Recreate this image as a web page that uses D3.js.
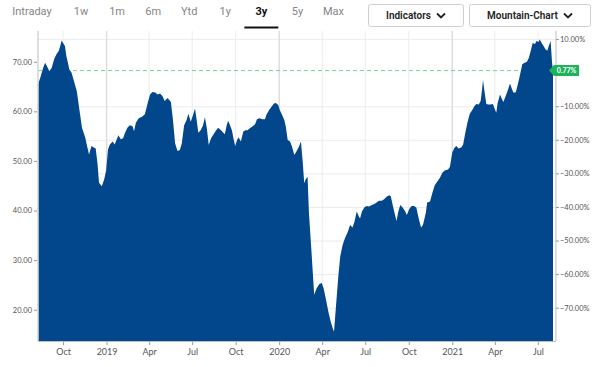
<!DOCTYPE html>
<html>
<head>
<meta charset="utf-8">
<script src="https://cdn.jsdelivr.net/npm/d3@7"></script>
<style>
  body { margin: 0; background: #fff; }
  svg { display: block; }
</style>
</head>
<body>
<div id="chart"></div>
<script>
// データ ------------------------------------------------------------------------------------
const dates = [
  '2018-08-09', '2018-08-14', '2018-08-20', '2018-08-24', '2018-08-28', '2018-09-02', '2018-09-07', '2018-09-12',
  '2018-09-17', '2018-09-22', '2018-09-25', '2018-09-28', '2018-10-01', '2018-10-05', '2018-10-08', '2018-10-12',
  '2018-10-14', '2018-10-19', '2018-10-24', '2018-10-30', '2018-11-04', '2018-11-10', '2018-11-17', '2018-11-20',
  '2018-11-25', '2018-11-30', '2018-12-05', '2018-12-09', '2018-12-13', '2018-12-16', '2018-12-22', '2018-12-27',
  '2018-12-31', '2019-01-04', '2019-01-08', '2019-01-14', '2019-01-18', '2019-01-22', '2019-01-26', '2019-01-31',
  '2019-02-05', '2019-02-09', '2019-02-14', '2019-02-19', '2019-02-25', '2019-02-28', '2019-03-04', '2019-03-10',
  '2019-03-17', '2019-03-23', '2019-03-29', '2019-04-03', '2019-04-08', '2019-04-14', '2019-04-19', '2019-04-24',
  '2019-04-29', '2019-05-04', '2019-05-10', '2019-05-17', '2019-05-21', '2019-05-26', '2019-05-31', '2019-06-05',
  '2019-06-09', '2019-06-14', '2019-06-19', '2019-06-23', '2019-06-28', '2019-07-03', '2019-07-07', '2019-07-10',
  '2019-07-14', '2019-07-19', '2019-07-24', '2019-07-28', '2019-08-01', '2019-08-05', '2019-08-10', '2019-08-14',
  '2019-08-20', '2019-08-25', '2019-08-31', '2019-09-05', '2019-09-08', '2019-09-12', '2019-09-15', '2019-09-19',
  '2019-09-23', '2019-09-27', '2019-09-30', '2019-10-04', '2019-10-07', '2019-10-12', '2019-10-17', '2019-10-21',
  '2019-10-26', '2019-10-31', '2019-11-06', '2019-11-11', '2019-11-15', '2019-11-20', '2019-11-27', '2019-12-02',
  '2019-12-05', '2019-12-11', '2019-12-17', '2019-12-21', '2019-12-25', '2019-12-30', '2020-01-02', '2020-01-07',
  '2020-01-12', '2020-01-15', '2020-01-19', '2020-01-24', '2020-01-28', '2020-02-02', '2020-02-07', '2020-02-12',
  '2020-02-16', '2020-02-20', '2020-02-23', '2020-02-26', '2020-03-01', '2020-03-04', '2020-03-10', '2020-03-15',
  '2020-03-20', '2020-03-26', '2020-03-31', '2020-04-04', '2020-04-09', '2020-04-14', '2020-04-19', '2020-04-24',
  '2020-04-26', '2020-04-30', '2020-05-05', '2020-05-09', '2020-05-14', '2020-05-19', '2020-05-25', '2020-05-30',
  '2020-06-04', '2020-06-08', '2020-06-13', '2020-06-17', '2020-06-20', '2020-06-24', '2020-06-29', '2020-07-04',
  '2020-07-09', '2020-07-15', '2020-07-20', '2020-07-25', '2020-07-30', '2020-08-05', '2020-08-10', '2020-08-15',
  '2020-08-21', '2020-08-24', '2020-08-28', '2020-09-02', '2020-09-05', '2020-09-09', '2020-09-13', '2020-09-18',
  '2020-09-23', '2020-09-27', '2020-10-02', '2020-10-07', '2020-10-12', '2020-10-17', '2020-10-22', '2020-10-27',
  '2020-10-31', '2020-11-06', '2020-11-09', '2020-11-15', '2020-11-20', '2020-11-25', '2020-11-30', '2020-12-06',
  '2020-12-11', '2020-12-16', '2020-12-23', '2020-12-27', '2021-01-01', '2021-01-06', '2021-01-10', '2021-01-14',
  '2021-01-20', '2021-01-24', '2021-01-28', '2021-02-02', '2021-02-07', '2021-02-12', '2021-02-17', '2021-02-21',
  '2021-02-26', '2021-03-02', '2021-03-05', '2021-03-07', '2021-03-10', '2021-03-14', '2021-03-18', '2021-03-23',
  '2021-03-28', '2021-03-31', '2021-04-04', '2021-04-07', '2021-04-12', '2021-04-15', '2021-04-19', '2021-04-24',
  '2021-04-29', '2021-05-03', '2021-05-06', '2021-05-10', '2021-05-15', '2021-05-18', '2021-05-23', '2021-05-29',
  '2021-06-03', '2021-06-08', '2021-06-12', '2021-06-16', '2021-06-20', '2021-06-25', '2021-06-28', '2021-07-02',
  '2021-07-05', '2021-07-09', '2021-07-14', '2021-07-17', '2021-07-21', '2021-07-24', '2021-07-28', '2021-07-31',
  '2021-08-02'
];
const prices = [
  65.4, 66.8, 68.8, 69.8, 69.1, 68.1, 68.8, 70.5,
  71.5, 72.2, 73.2, 74.3, 73.8, 73.2, 71.1, 69.5,
  68.5, 67.8, 66.1, 64.1, 60.7, 56.7, 54.7, 53.3,
  51.3, 53.0, 52.7, 52.5, 49.3, 45.6, 44.9, 46.3,
  48.0, 52.3, 53.3, 53.9, 53.3, 54.2, 55.2, 54.4,
  54.6, 55.7, 56.7, 57.2, 57.0, 56.0, 57.7, 58.6,
  58.9, 59.4, 61.7, 63.4, 63.9, 63.8, 63.4, 63.6,
  63.1, 62.1, 62.7, 61.9, 58.6, 53.5, 52.0, 52.2,
  53.5, 57.2, 58.2, 59.5, 57.9, 59.3, 60.6, 58.6,
  55.7, 56.2, 57.2, 58.8, 56.6, 53.2, 54.6, 55.2,
  56.1, 56.7, 56.2, 55.7, 55.4, 57.2, 58.1, 57.2,
  56.2, 54.2, 53.0, 54.2, 54.8, 53.9, 55.9, 56.2,
  56.2, 56.6, 57.0, 57.4, 58.4, 58.6, 58.4, 58.4,
  59.3, 60.3, 61.1, 61.6, 61.7, 61.3, 60.3, 59.3,
  58.2, 56.9, 54.2, 53.9, 52.9, 51.2, 52.0, 52.9,
  53.9, 49.5, 45.5, 46.3, 46.8, 39.4, 30.7, 23.0,
  24.3, 25.2, 25.4, 24.3, 22.0, 19.6, 17.6, 16.0,
  15.6, 20.6, 26.7, 30.7, 33.0, 34.4, 35.7, 37.1,
  36.6, 37.7, 39.8, 38.9, 38.4, 39.8, 40.6, 40.9,
  40.8, 41.1, 41.3, 41.6, 42.0, 42.0, 42.3, 42.8,
  43.1, 42.9, 41.1, 39.1, 37.9, 39.8, 41.1, 40.6,
  39.9, 39.1, 40.3, 40.9, 40.9, 40.6, 38.4, 36.6,
  37.1, 39.5, 41.6, 41.8, 43.6, 45.1, 45.8, 46.6,
  47.6, 48.1, 48.3, 48.8, 51.7, 52.7, 53.0, 52.5,
  52.7, 53.3, 55.4, 57.7, 59.5, 60.2, 61.1, 61.5,
  61.4, 62.1, 64.4, 66.3, 64.1, 61.5, 61.4, 61.4,
  61.5, 60.7, 59.7, 61.7, 63.4, 62.7, 61.9, 63.1,
  64.4, 65.6, 64.8, 63.8, 63.8, 64.8, 66.8, 69.5,
  69.8, 70.0, 70.8, 72.2, 73.8, 73.6, 74.2, 74.0,
  74.5, 73.8, 73.0, 72.5, 72.2, 73.2, 74.2, 69.8,
  68.22
];
const baseClose = 67.7;          // 3年前の基準値 (0%)
const priceTicks = [20, 30, 40, 50, 60, 70];
const pctTicks = [10, -10, -20, -30, -40, -50, -60, -70];
const xTickDates = ['2018-10-01', '2019-01-01', '2019-04-01', '2019-07-01', '2019-10-01', '2020-01-01',
  '2020-04-01', '2020-07-01', '2020-10-01', '2021-01-01', '2021-04-01', '2021-07-01'];
const xTickLabels = ['Oct', '2019', 'Apr', 'Jul', 'Oct', '2020', 'Apr', 'Jul', 'Oct', '2021', 'Apr', 'Jul'];
const tabs = ['Intraday', '1w', '1m', '6m', 'Ytd', '1y', '3y', '5y', 'Max'];
const activeTab = '3y';
const buttons = ['Indicators', 'Mountain-Chart'];

// SVG領域 -----------------------------------------------------------------------------------
const width = 600;
const height = 367;
const plot = { left: 38, right: 553, top: 31, bottom: 341 };
const axisFont = 'Lato, "Open Sans", sans-serif';

const svg = d3.select('#chart').append('svg')
  .attr('width', width)
  .attr('height', height);

const data = dates.map((d, i) => ({ date: new Date(d), value: prices[i] }));

// スケール ------------------------------------------------------------------------------------
const xScale = d3.scaleUtc()
  .domain([data[0].date, data[data.length - 1].date])
  .range([plot.left, plot.right]);
const yScale = d3.scaleLinear()
  .domain([13.7, 76.2])
  .range([plot.bottom, plot.top]);
const pctY = p => yScale(baseClose * (1 + p / 100));

// グリッド ------------------------------------------------------------------------------------
svg.append('g')
  .selectAll('line')
  .data(pctTicks)
  .join('line')
  .attr('x1', plot.left)
  .attr('x2', plot.right + 3)
  .attr('y1', d => pctY(d))
  .attr('y2', d => pctY(d))
  .attr('stroke', '#ececec')
  .attr('stroke-width', 1);

svg.append('g')
  .selectAll('line')
  .data(xTickDates)
  .join('line')
  .attr('x1', d => xScale(new Date(d)))
  .attr('x2', d => xScale(new Date(d)))
  .attr('y1', plot.top)
  .attr('y2', plot.bottom)
  .attr('stroke', (d, i) => /^\d/.test(xTickLabels[i]) ? '#dedede' : '#ececec')
  .attr('stroke-width', (d, i) => /^\d/.test(xTickLabels[i]) ? 1.5 : 1);

// 基準線 (点線) -------------------------------------------------------------------------------
const lastValue = prices[prices.length - 1];
const lastPct = (lastValue / baseClose - 1) * 100;
svg.append('line')
  .attr('x1', plot.left)
  .attr('x2', plot.right)
  .attr('y1', yScale(lastValue))
  .attr('y2', yScale(lastValue))
  .attr('stroke', '#74d39c')
  .attr('stroke-width', 1)
  .attr('stroke-dasharray', '4,3');

// エリア ---------------------------------------------------------------------------------------
const area = d3.area()
  .x(d => xScale(d.date))
  .y0(plot.bottom)
  .y1(d => yScale(d.value));
svg.append('path')
  .datum(data)
  .attr('d', area)
  .attr('fill', '#02478b');

// 左軸 -----------------------------------------------------------------------------------------
svg.append('line')
  .attr('x1', plot.left)
  .attr('x2', plot.left)
  .attr('y1', plot.top)
  .attr('y2', plot.bottom)
  .attr('stroke', '#d6d6d6')
  .attr('stroke-width', 1.6);

const leftAxis = svg.append('g')
  .attr('transform', 'translate(' + (plot.left - 1) + ',0)')
  .call(d3.axisLeft(yScale).tickValues(priceTicks).tickFormat(d3.format('.2f')).tickSize(3).tickPadding(2));
leftAxis.select('.domain').remove();
leftAxis.selectAll('line').attr('stroke', '#999');
leftAxis.selectAll('text')
  .attr('fill', '#555')
  .attr('font-family', axisFont)
  .attr('font-size', '7.5px');

// 右軸 -----------------------------------------------------------------------------------------
const rightX = plot.right + 3;
svg.append('line')
  .attr('x1', rightX)
  .attr('x2', rightX)
  .attr('y1', plot.top)
  .attr('y2', plot.bottom)
  .attr('stroke', '#bdbdbd')
  .attr('stroke-width', 1);

const rightTicks = svg.append('g')
  .selectAll('g')
  .data(pctTicks)
  .join('g')
  .attr('transform', d => 'translate(' + rightX + ',' + pctY(d) + ')');
rightTicks.append('line')
  .attr('x1', 0)
  .attr('x2', 3)
  .attr('stroke', '#999');
rightTicks.append('text')
  .attr('x', 4)
  .attr('dy', '0.32em')
  .attr('fill', '#555')
  .attr('font-family', axisFont)
  .attr('font-size', '7.5px')
  .text(d => d3.format('.2f')(d) + '%');

// 現在値バッジ ------------------------------------------------------------------------------------
const by = yScale(lastValue);
svg.append('path')
  .attr('d', `M${plot.right - 4},${by} L${plot.right + 1},${by - 5.5} L${plot.right + 26},${by - 5.5} L${plot.right + 26},${by + 5.5} L${plot.right + 1},${by + 5.5} Z`)
  .attr('fill', '#1cb35b');
svg.append('text')
  .attr('x', plot.right + 13.5)
  .attr('y', by)
  .attr('dy', '0.35em')
  .attr('text-anchor', 'middle')
  .attr('fill', '#fff')
  .attr('font-family', axisFont)
  .attr('font-weight', 700)
  .attr('font-size', '7px')
  .text(d3.format('.2f')(lastPct) + '%');

// X軸 ------------------------------------------------------------------------------------------
svg.append('line')
  .attr('x1', plot.left)
  .attr('x2', rightX)
  .attr('y1', plot.bottom + 0.5)
  .attr('y2', plot.bottom + 0.5)
  .attr('stroke', '#bdbdbd');

const xAxis = svg.append('g')
  .attr('transform', 'translate(0,' + (plot.bottom + 1) + ')')
  .call(d3.axisBottom(xScale)
    .tickValues(xTickDates.map(d => new Date(d)))
    .tickFormat((d, i) => xTickLabels[i])
    .tickSize(3)
    .tickPadding(4));
xAxis.select('.domain').remove();
xAxis.selectAll('line').attr('stroke', '#999');
xAxis.selectAll('text')
  .attr('fill', '#555')
  .attr('font-family', axisFont)
  .attr('font-size', '9px');

// 期間タブ ------------------------------------------------------------------------------------
const tabX = d3.scalePoint().domain(tabs.slice(1)).range([81, 333.5]);
svg.append('g')
  .selectAll('text')
  .data(tabs)
  .join('text')
  .attr('x', d => d === 'Intraday' ? 32 : tabX(d))
  .attr('y', 14.5)
  .attr('text-anchor', 'middle')
  .attr('font-family', 'Roboto, sans-serif')
  .attr('font-size', '11px')
  .attr('font-weight', d => d === activeTab ? 700 : 400)
  .attr('fill', d => d === activeTab ? '#111' : '#858585')
  .text(d => d);
svg.append('rect')
  .attr('x', tabX(activeTab) - 17)
  .attr('y', 26.5)
  .attr('width', 34)
  .attr('height', 2)
  .attr('fill', '#111');

// ボタン ---------------------------------------------------------------------------------------
const btnBox = [[368, 463], [469, 590]];
const btn = svg.append('g')
  .selectAll('g')
  .data(buttons)
  .join('g');
btn.append('rect')
  .attr('x', (d, i) => btnBox[i][0] + 0.5)
  .attr('y', 4.5)
  .attr('width', (d, i) => btnBox[i][1] - btnBox[i][0])
  .attr('height', 22)
  .attr('rx', 2)
  .attr('fill', '#fff')
  .attr('stroke', '#cfcfcf');
btn.append('text')
  .attr('x', (d, i) => btnBox[i][0] + (btnBox[i][1] - btnBox[i][0] - 14) / 2)
  .attr('y', 15.5)
  .attr('dy', '0.35em')
  .attr('text-anchor', 'middle')
  .attr('font-family', 'Roboto, sans-serif')
  .attr('font-size', '10px')
  .attr('font-weight', 600)
  .attr('fill', '#222')
  .text(d => d);
btn.append('path')
  .attr('d', (d, i) => {
    const cx = btnBox[i][1] - 22;
    return `M${cx - 4},${13.5} L${cx},${17.5} L${cx + 4},${13.5}`;
  })
  .attr('fill', 'none')
  .attr('stroke', '#222')
  .attr('stroke-width', 1.8);
</script>
</body>
</html>
